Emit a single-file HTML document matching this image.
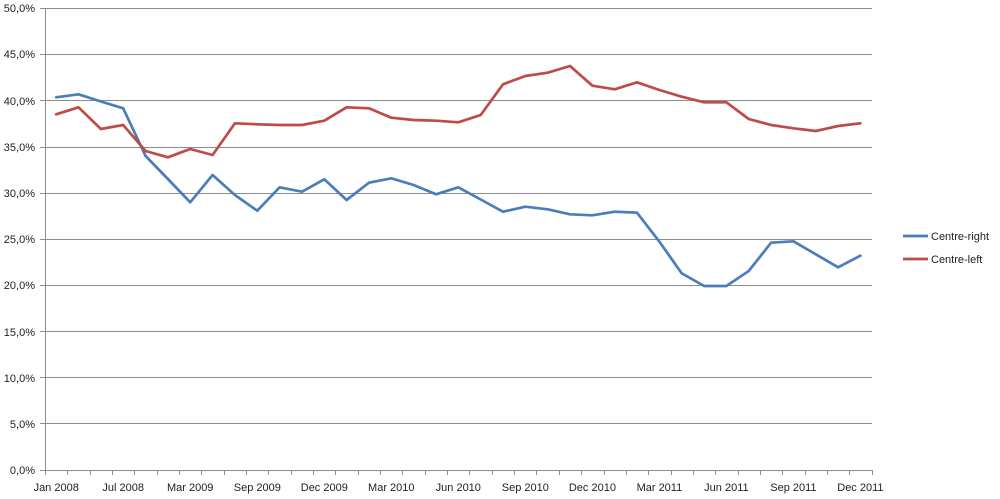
<!DOCTYPE html>
<html>
<head>
<meta charset="utf-8">
<style>
html,body{margin:0;padding:0;background:#fff;}
svg{display:block;}
text{font-family:"Liberation Sans",sans-serif;font-size:11px;fill:#222;}
</style>
</head>
<body>
<svg width="1000" height="499" viewBox="0 0 1000 499" xmlns="http://www.w3.org/2000/svg">
<g stroke="#8c8c8c" stroke-width="1" shape-rendering="crispEdges">
<line x1="40" y1="8.5" x2="872" y2="8.5"/>
<line x1="40" y1="54.5" x2="872" y2="54.5"/>
<line x1="40" y1="100.5" x2="872" y2="100.5"/>
<line x1="40" y1="147.5" x2="872" y2="147.5"/>
<line x1="40" y1="193.5" x2="872" y2="193.5"/>
<line x1="40" y1="239.5" x2="872" y2="239.5"/>
<line x1="40" y1="285.5" x2="872" y2="285.5"/>
<line x1="40" y1="331.5" x2="872" y2="331.5"/>
<line x1="40" y1="377.5" x2="872" y2="377.5"/>
<line x1="40" y1="423.5" x2="872" y2="423.5"/>
<line x1="40" y1="470.5" x2="872" y2="470.5"/>
<line x1="45.5" y1="8" x2="45.5" y2="470"/>
</g>
<g stroke="#8c8c8c" stroke-width="1" shape-rendering="crispEdges" id="ticks"></g>
<g text-anchor="end">
<text x="35" y="12">50,0%</text>
<text x="35" y="58">45,0%</text>
<text x="35" y="105">40,0%</text>
<text x="35" y="151">35,0%</text>
<text x="35" y="197">30,0%</text>
<text x="35" y="243">25,0%</text>
<text x="35" y="289">20,0%</text>
<text x="35" y="336">15,0%</text>
<text x="35" y="382">10,0%</text>
<text x="35" y="428">5,0%</text>
<text x="35" y="474">0,0%</text>
</g>
<g text-anchor="middle">
<text x="56.2" y="491">Jan 2008</text>
<text x="123.2" y="491">Jul 2008</text>
<text x="190.2" y="491">Mar 2009</text>
<text x="257.3" y="491">Sep 2009</text>
<text x="324.3" y="491">Dec 2009</text>
<text x="391.3" y="491">Mar 2010</text>
<text x="458.3" y="491">Jun 2010</text>
<text x="525.3" y="491">Sep 2010</text>
<text x="592.4" y="491">Dec 2010</text>
<text x="659.4" y="491">Mar 2011</text>
<text x="726.4" y="491">Jun 2011</text>
<text x="793.4" y="491">Sep 2011</text>
<text x="860.4" y="491">Dec 2011</text>
</g>
<polyline fill="none" stroke="#4a7ebb" stroke-width="2.7" stroke-linejoin="round" stroke-linecap="round"
points="56.2,97.3 78.5,94.3 100.9,101.5 123.2,108.3 145.6,156 167.9,179 190.2,202.3 212.6,175 234.9,195 257.3,210.7 279.6,187.3 302,191.7 324.3,179.3 346.6,200 369,182.7 391.3,178.3 413.6,185 436,194.3 458.3,187.3 480.7,199.5 503,211.7 525.3,206.7 547.7,209.3 570,214.3 592.4,215.3 614.7,211.7 637,212.7 659.4,241.7 681.7,273.3 704.1,286 726.4,286 748.7,271 771.1,242.7 793.4,241.3 815.8,254.3 838.1,267.3 860.4,255.7"/>
<polyline fill="none" stroke="#be4b48" stroke-width="2.7" stroke-linejoin="round" stroke-linecap="round"
points="56.2,114.3 78.5,107.3 100.9,129 123.2,125 145.6,151 167.9,157.3 190.2,149 212.6,155 234.9,123.3 257.3,124.3 279.6,125 302,125 324.3,120.7 346.6,107.3 369,108.3 391.3,117.7 413.6,120 436,120.7 458.3,122.3 480.7,115 503,84.3 525.3,76 547.7,72.7 570,66 592.4,85.7 614.7,89.3 637,82.3 659.4,90 681.7,96.7 704.1,102.3 726.4,102.3 748.7,119 771.1,125 793.4,128.3 815.8,131 838.1,126 860.4,123.3"/>
<line x1="903" y1="236" x2="928" y2="236" stroke="#4a7ebb" stroke-width="2.7"/>
<line x1="903" y1="259" x2="928" y2="259" stroke="#be4b48" stroke-width="2.7"/>
<text x="931" y="240">Centre-right</text>
<text x="931" y="263">Centre-left</text>
</svg>
<script>
(function(){
var g=document.getElementById('ticks');
var ns='http://www.w3.org/2000/svg';
for(var k=0;k<=37;k++){
var x=Math.round(45+k*22.34)+0.5;
var l=document.createElementNS(ns,'line');
l.setAttribute('x1',x);l.setAttribute('x2',x);
l.setAttribute('y1',470);l.setAttribute('y2',475);
g.appendChild(l);
}
})();
</script>
</body>
</html>
